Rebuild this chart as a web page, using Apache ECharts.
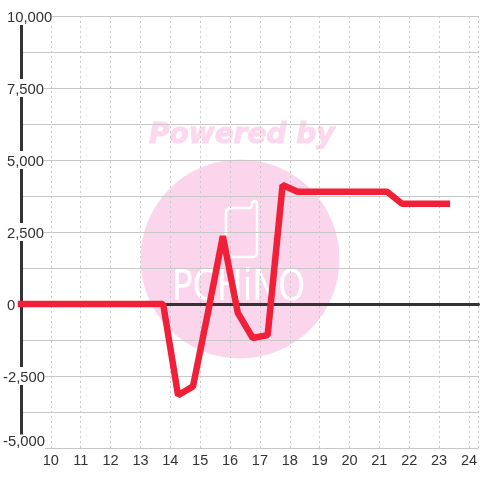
<!DOCTYPE html>
<html><head><meta charset="utf-8">
<style>html,body{margin:0;padding:0;background:#fff}#c{width:480px;height:480px}</style>
<script src="https://cdn.jsdelivr.net/npm/echarts@6/dist/echarts.min.js"></script>
</head><body><div id="c"></div>
<script>
var xTicks = [10,11,12,13,14,15,16,17,18,19,20,21,22,23,24];
var yTickLabels = [-5000,-2500,0,2500,5000,7500,10000];
var xValues = [9,13.76,14.26,14.76,15.26,15.76,16.26,16.76,17.26,17.76,18.26,18.76,19.26,19.76,20.26,20.76,21.26,21.76,22.26,22.76,23.26];
var yValues = [0,0,-3170,-2860,-300,2360,-310,-1180,-1080,4130,3900,3900,3900,3900,3900,3900,3900,3480,3480,3480,3480];
var points = xValues.map(function(x,i){return [x,yValues[i]];});
var fmt = function(v){
  if(yTickLabels.indexOf(v)<0) return '';
  var s=Math.abs(v).toLocaleString('en-US');
  if(v===-5000) return '{m|-'+s+'}';
  return v<0?'{n|-'+s+'}':'{p|'+s+'}';
};
var chart = echarts.init(document.getElementById('c'),null,{renderer:'canvas'});
chart.setOption({
  animation:false,
  backgroundColor:'#fff',
  textStyle:{fontFamily:'Liberation Sans'},
  graphic:{elements:[
    {type:'circle',z:-10,silent:true,shape:{cx:240,cy:259,r:99.5},style:{fill:'#fbd5ec'}},
    {type:'polygon',z:-9,silent:true,shape:{points:[[229,208],[250,208],[252,206],[252,203],[254,201],[255,201],[257,203],[257,254],[254,257],[229,257],[226,254],[226,211]]},style:{fill:'none',stroke:'#fff',lineWidth:2.5,lineJoin:'round'}},
    {type:'text',z:-9,silent:true,x:149,y:122,style:{text:'Powered by',fill:'#fcd8ee',stroke:'#fcd8ee',lineWidth:1,font:'italic bold 28px "DejaVu Sans"'}},
    {type:'text',z:-9,silent:true,x:172,y:268,scaleX:0.82,style:{text:'PCHiNO',fill:'#fff',font:'42px "DejaVu Sans"'}}
  ]},
  grid:{left:20.5,right:0,top:16,bottom:32,containLabel:false},
  xAxis:[{
    type:'value',min:9,max:24.32,interval:1,position:'bottom',
    axisLine:{show:false,onZero:false},axisTick:{show:false},
    axisLabel:{color:'#333',fontSize:14.5,margin:5,showMinLabel:false,showMaxLabel:false,
      formatter:function(v){return xTicks.indexOf(v)>=0?String(v):'';}},
    splitLine:{show:true,lineStyle:{color:'#c8c8c8',width:1,type:[2,3]}}
  },{
    type:'value',min:9,max:24.32,interval:1,position:'bottom',
    axisLine:{show:true,onZero:true,onZeroAxisIndex:0,lineStyle:{color:'#333',width:3}},
    axisTick:{show:false},axisLabel:{show:false},splitLine:{show:false}
  }],
  yAxis:{
    type:'value',min:-5000,max:10000,interval:1250,position:'left',
    axisLine:{show:true,onZero:false,lineStyle:{color:'#333',width:3}},axisTick:{show:false},
    axisLabel:{color:'#333',fontSize:14.5,align:'left',margin:18,backgroundColor:'#fff',
      formatter:fmt,rich:{
        p:{fontSize:14.8,color:'#333',padding:[3,0,0,4]},
        n:{fontSize:14.8,color:'#333',padding:[3,0,0,0]},
        m:{fontSize:14.8,color:'#333',padding:[0,0,12,0]}}},
    splitLine:{show:true,lineStyle:{color:'#c8c8c8',width:1}}
  },
  series:[{type:'line',data:points,symbol:'none',xAxisIndex:0,z:5,clip:false,
    lineStyle:{color:'#f02038',width:6.5,join:'bevel',cap:'square'}}]
});
</script></body></html>
